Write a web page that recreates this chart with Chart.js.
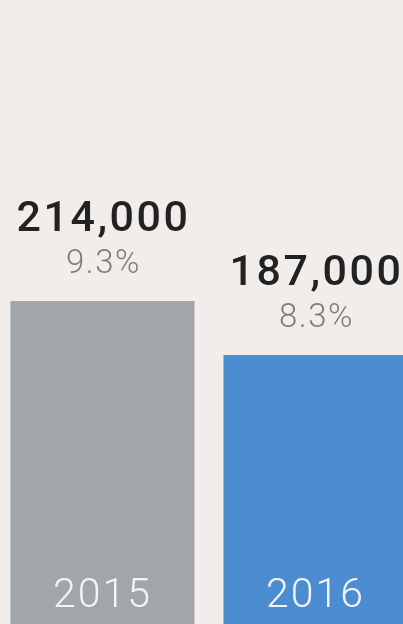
<!DOCTYPE html>
<html>
<head>
<meta charset="utf-8">
<script src="https://cdn.jsdelivr.net/npm/chart.js@4.4.1/dist/chart.umd.min.js"></script>
<style>
    html, body {
        margin: 0;
        padding: 0;
        width: 403px;
        height: 624px;
        overflow: hidden;
        background: #f1edeb;
    }
    #wrap {
        position: absolute;
        left: -4px;
        top: 0;
        width: 426px;
        height: 624px;
    }
</style>
</head>
<body>
<div id="wrap"><canvas id="chart-years"></canvas></div>
<script>
// dados do grafico
const years = ['2015', '2016'];
const totals = [214000, 187000];
const shares = ['9.3%', '8.3%'];
const barColors = ['#a3a6a9', '#4b8dd0'];

// escrever numeros e anos em cima das barras
const barLabels = {
    id: 'barLabels',
    afterDatasetsDraw(chart) {
        const ctx = chart.ctx;
        const meta = chart.getDatasetMeta(0);
        const bottom = chart.chartArea.bottom;

        meta.data.forEach((bar, i) => {
            ctx.save();
            ctx.textAlign = 'center';
            ctx.textBaseline = 'alphabetic';

            ctx.letterSpacing = '2.5px';
            ctx.fillStyle = '#222222';
            ctx.font = '500 43px Roboto';
            ctx.fillText(totals[i].toLocaleString('en-US'), bar.x + 1, bar.y - 70);

            ctx.letterSpacing = '1.5px';
            ctx.fillStyle = '#7d7d7d';
            ctx.font = '300 33px Roboto';
            ctx.fillText(shares[i], bar.x + 1, bar.y - 28);

            ctx.letterSpacing = '2px';
            ctx.fillStyle = '#f4f4f4';
            ctx.font = '300 41px Roboto';
            ctx.fillText(years[i], bar.x, bottom - 17);
            ctx.restore();
        });
    }
};

new Chart(document.getElementById('chart-years'), {
    type: 'bar',
    data: {
        labels: years,
        datasets: [{
            data: totals,
            backgroundColor: barColors,
            borderWidth: 0,
            barPercentage: 0.864,
            categoryPercentage: 1
        }]
    },
    options: {
        responsive: true,
        maintainAspectRatio: false,
        animation: false,
        layout: { padding: 0 },
        plugins: {
            legend: { display: false },
            tooltip: { enabled: false }
        },
        scales: {
            x: { display: false },
            y: { display: false, min: 52500, max: 364500 }
        }
    },
    plugins: [barLabels]
});
</script>
</body>
</html>
